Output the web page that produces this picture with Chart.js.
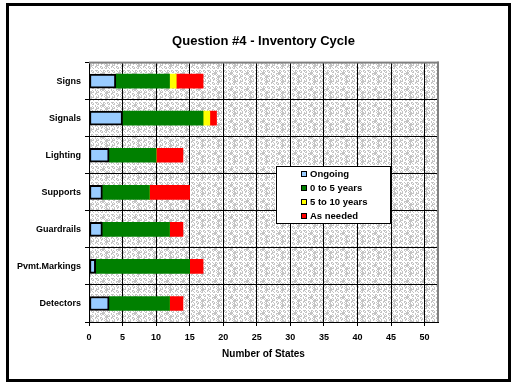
<!DOCTYPE html>
<html>
<head>
<meta charset="utf-8">
<script src="https://cdn.jsdelivr.net/npm/chart.js@4.4.0/dist/chart.umd.min.js"></script>
<style>
  html, body { margin: 0; padding: 0; background: #fff; }
  canvas { display: block; }
</style>
</head>
<body>
<canvas id="grafico" width="519" height="391"></canvas>
<script>
var categorias = ['Signs', 'Signals', 'Lighting', 'Supports', 'Guardrails', 'Pvmt.Markings', 'Detectors'];
var ongoing    = [4, 5, 3, 2, 2, 1, 3];
var ate5anos   = [8, 12, 7, 7, 10, 14, 9];
var de5a10     = [1, 1, 0, 0, 0, 0, 0];
var conforme   = [4, 1, 4, 6, 2, 2, 2];
var rotulosSeries = ['Ongoing', '0 to 5 years', '5 to 10 years', 'As needed'];
var ticksX = [0, 5, 10, 15, 20, 25, 30, 35, 40, 45, 50];
var eixoMax = 52;

var FONTE = '"Liberation Sans", Arial, sans-serif';

// textura pontilhada do fundo da area de plotagem
function padraoFundo(ctx) {
  var n = 16;
  var c = document.createElement('canvas');
  c.width = n; c.height = n;
  var g = c.getContext('2d');
  g.fillStyle = '#ffffff';
  g.fillRect(0, 0, n, n);
  g.fillStyle = '#c4c4c4';
  for (var y = 0; y < n; y++) {
    for (var x = 0; x < n; x++) {
      if ((x * 7 + y * 13 + x * y * 3) % 11 < 5) g.fillRect(x, y, 1, 1);
    }
  }
  return ctx.createPattern(c, 'repeat');
}

var fundoPlugin = {
  id: 'fundo',
  beforeDraw: function (chart) {
    var ctx = chart.ctx, a = chart.chartArea;
    ctx.save();
    ctx.fillStyle = '#fff';
    ctx.fillRect(0, 0, chart.width, chart.height);
    ctx.fillStyle = padraoFundo(ctx);
    ctx.fillRect(a.left, a.top, a.right - a.left, a.bottom - a.top);
    ctx.restore();
  },
  afterDraw: function (chart) {
    var ctx = chart.ctx, a = chart.chartArea;
    ctx.save();
    // borda cinza superior e direita da area de plotagem
    ctx.fillStyle = '#808080';
    ctx.fillRect(a.left, a.top - 1, a.right - a.left + 1, 2);
    ctx.fillRect(a.right - 1, a.top - 1, 2, a.bottom - a.top + 1);

    // moldura externa
    ctx.strokeStyle = '#000';
    ctx.lineWidth = 3;
    ctx.strokeRect(7.5, 4.5, 502, 376);

    // legenda
    var lx = 276, ly = 166, lw = 115, lh = 58;
    ctx.fillStyle = '#fff';
    ctx.fillRect(lx, ly, lw, lh);
    ctx.lineWidth = 1;
    ctx.strokeRect(lx + 0.5, ly + 0.5, lw - 1, lh - 1);
    ctx.font = 'bold 9.5px ' + FONTE;
    ctx.textBaseline = 'middle';
    ctx.textAlign = 'left';
    chart.data.datasets.forEach(function (ds, i) {
      var cy = 174 + i * 14;
      ctx.fillStyle = ds.backgroundColor;
      ctx.fillRect(301, cy - 3, 6, 6);
      ctx.strokeStyle = '#000';
      ctx.strokeRect(301.5, cy - 2.5, 5, 5);
      ctx.fillStyle = '#000';
      ctx.fillText(ds.label, 310, cy + 0.5);
    });
    ctx.restore();
  }
};

new Chart(document.getElementById('grafico'), {
  type: 'bar',
  data: {
    labels: categorias,
    datasets: [
      { label: rotulosSeries[0], data: ongoing, backgroundColor: '#99ccff', borderColor: '#000', borderWidth: 2, borderSkipped: false },
      { label: rotulosSeries[1], data: ate5anos, backgroundColor: '#008000', borderWidth: 0 },
      { label: rotulosSeries[2], data: de5a10, backgroundColor: '#ffff00', borderWidth: 0 },
      { label: rotulosSeries[3], data: conforme, backgroundColor: '#ff0000', borderWidth: 0 }
    ]
  },
  options: {
    indexAxis: 'y',
    responsive: false,
    animation: false,
    barThickness: 14,
    layout: { padding: { left: 10, right: 81, top: 20, bottom: 20 } },
    plugins: {
      legend: { display: false },
      tooltip: { enabled: false },
      title: {
        display: true,
        text: 'Question #4 - Inventory Cycle',
        fullSize: false,
        color: '#000',
        font: { family: FONTE, size: 13, weight: 'bold' },
        padding: { top: 14, bottom: 13 }
      }
    },
    scales: {
      x: {
        stacked: true,
        min: 0,
        max: eixoMax,
        afterBuildTicks: function (s) { s.ticks = ticksX.map(function (v) { return { value: v }; }); },
        afterFit: function (s) { s.height = 49; },
        grid: { color: '#000', lineWidth: 1, tickLength: 4 },
        border: { color: '#000', width: 1 },
        ticks: { color: '#000', padding: 6, maxRotation: 0, font: { family: FONTE, size: 9, weight: 'bold' } },
        title: {
          display: true,
          text: 'Number of States',
          color: '#000',
          font: { family: FONTE, size: 10, weight: 'bold' },
          padding: { top: 0, bottom: 11 }
        }
      },
      y: {
        stacked: true,
        afterFit: function (s) { s.width = 79; },
        grid: { color: '#000', lineWidth: 1, tickLength: 4, offset: true },
        border: { color: '#000', width: 1 },
        ticks: { color: '#000', padding: 4, font: { family: FONTE, size: 9, weight: 'bold' } }
      }
    }
  },
  plugins: [fundoPlugin]
});
</script>
</body>
</html>
